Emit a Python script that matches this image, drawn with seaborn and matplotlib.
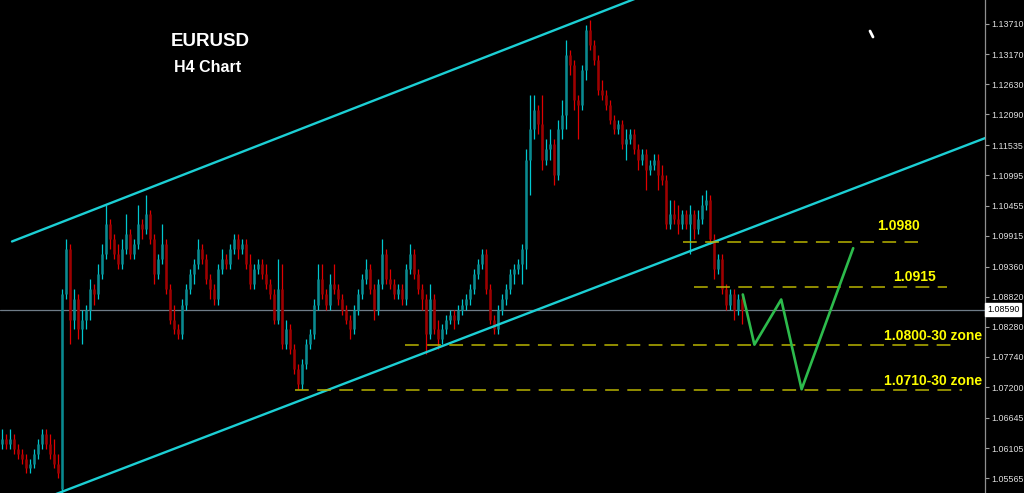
import numpy as np
import matplotlib
matplotlib.use("Agg")
import matplotlib.pyplot as plt
from matplotlib.lines import Line2D
import seaborn as sns

# EURUSD H4 candles, one bar per index
opens = [
    1.0618, 1.0627, 1.0618, 1.0627, 1.0609, 1.0600, 1.0591, 1.0574, 1.0582, 1.0600,
    1.0618, 1.0636, 1.0618, 1.0600, 1.0582, 1.0538, 1.0886, 1.0967, 1.0841, 1.0877,
    1.0824, 1.0841, 1.0859, 1.0895, 1.0886, 1.0922, 1.0958, 1.1012, 1.0985, 1.0958,
    1.0940, 1.0967, 1.0994, 1.0958, 1.0976, 1.1012, 1.1003, 1.1030, 1.0985, 1.0922,
    1.0949, 1.0976, 1.0895, 1.0841, 1.0824, 1.0815, 1.0868, 1.0895, 1.0922, 1.0940,
    1.0967, 1.0949, 1.0913, 1.0895, 1.0877, 1.0931, 1.0949, 1.0940, 1.0967, 1.0985,
    1.0967, 1.0976, 1.0940, 1.0904, 1.0931, 1.0940, 1.0922, 1.0904, 1.0886, 1.0841,
    1.0895, 1.0797, 1.0824, 1.0788, 1.0752, 1.0725, 1.0761, 1.0797, 1.0815, 1.0868,
    1.0913, 1.0886, 1.0868, 1.0904, 1.0895, 1.0877, 1.0859, 1.0841, 1.0824, 1.0859,
    1.0886, 1.0913, 1.0931, 1.0895, 1.0859, 1.0904, 1.0958, 1.0913, 1.0904, 1.0886,
    1.0895, 1.0877, 1.0931, 1.0958, 1.0922, 1.0895, 1.0877, 1.0815, 1.0877, 1.0824,
    1.0806, 1.0824, 1.0841, 1.0850, 1.0841, 1.0859, 1.0868, 1.0877, 1.0895, 1.0922,
    1.0940, 1.0958, 1.0895, 1.0841, 1.0824, 1.0859, 1.0877, 1.0895, 1.0922, 1.0931,
    1.0940, 1.0967, 1.1128, 1.1182, 1.1217, 1.1191, 1.1128, 1.1146, 1.1155, 1.1101,
    1.1182, 1.1208, 1.1316, 1.1298, 1.1235, 1.1226, 1.1289, 1.1360, 1.1333, 1.1307,
    1.1253, 1.1244, 1.1226, 1.1199, 1.1182, 1.1191, 1.1155, 1.1164, 1.1173, 1.1146,
    1.1128, 1.1137, 1.1110, 1.1119, 1.1128, 1.1101, 1.1092, 1.1012, 1.1030, 1.1021,
    1.1012, 1.1030, 1.1012, 1.1030, 1.1003, 1.1021, 1.1047, 1.1056, 1.0985, 1.0931,
    1.0949, 1.0895, 1.0868, 1.0886, 1.0859, 1.0877,
]
highs = [
    1.0645, 1.0636, 1.0645, 1.0636, 1.0618, 1.0609, 1.0600, 1.0591, 1.0609, 1.0627,
    1.0645, 1.0645, 1.0636, 1.0627, 1.0600, 1.0895, 1.0985, 1.0976, 1.0895, 1.0886,
    1.0859, 1.0868, 1.0913, 1.0904, 1.0940, 1.0976, 1.1047, 1.1021, 1.0994, 1.0976,
    1.0985, 1.1030, 1.1003, 1.0985, 1.1047, 1.1021, 1.1065, 1.1038, 1.0994, 1.0958,
    1.1012, 1.0985, 1.0904, 1.0868, 1.0833, 1.0877, 1.0904, 1.0931, 1.0949, 1.0985,
    1.0976, 1.0958, 1.0922, 1.0904, 1.0940, 1.0967, 1.0958, 1.0976, 1.0994, 1.0994,
    1.0985, 1.0985, 1.0958, 1.0940, 1.0949, 1.0949, 1.0940, 1.0913, 1.0895, 1.0949,
    1.0940, 1.0841, 1.0833, 1.0797, 1.0761, 1.0770, 1.0806, 1.0824, 1.0877, 1.0940,
    1.0940, 1.0895, 1.0922, 1.0940, 1.0904, 1.0886, 1.0868, 1.0850, 1.0868, 1.0895,
    1.0922, 1.0949, 1.0940, 1.0904, 1.0913, 1.0985, 1.0967, 1.0931, 1.0913, 1.0904,
    1.0904, 1.0940, 1.0976, 1.0967, 1.0931, 1.0904, 1.0886, 1.0904, 1.0886, 1.0841,
    1.0833, 1.0850, 1.0859, 1.0859, 1.0868, 1.0877, 1.0886, 1.0904, 1.0931, 1.0949,
    1.0967, 1.0967, 1.0904, 1.0850, 1.0868, 1.0886, 1.0904, 1.0931, 1.0940, 1.0949,
    1.0976, 1.1146, 1.1244, 1.1244, 1.1226, 1.1244, 1.1164, 1.1182, 1.1164, 1.1199,
    1.1235, 1.1342, 1.1324, 1.1307, 1.1244, 1.1298, 1.1369, 1.1378, 1.1342, 1.1316,
    1.1271, 1.1253, 1.1235, 1.1208, 1.1199, 1.1199, 1.1182, 1.1182, 1.1182, 1.1155,
    1.1146, 1.1146, 1.1128, 1.1137, 1.1137, 1.1119, 1.1101, 1.1056, 1.1056, 1.1047,
    1.1038, 1.1038, 1.1047, 1.1038, 1.1038, 1.1065, 1.1074, 1.1065, 1.0994, 1.0958,
    1.0958, 1.0904, 1.0895, 1.0895, 1.0886, 1.0886,
]
lows = [
    1.0609, 1.0609, 1.0609, 1.0600, 1.0591, 1.0582, 1.0565, 1.0565, 1.0574, 1.0591,
    1.0609, 1.0609, 1.0591, 1.0574, 1.0556, 1.0520, 1.0877, 1.0797, 1.0824, 1.0806,
    1.0797, 1.0824, 1.0841, 1.0868, 1.0877, 1.0913, 1.0949, 1.0967, 1.0949, 1.0931,
    1.0931, 1.0958, 1.0949, 1.0949, 1.0967, 1.0985, 1.0994, 1.0976, 1.0904, 1.0913,
    1.0940, 1.0886, 1.0833, 1.0815, 1.0806, 1.0806, 1.0859, 1.0886, 1.0904, 1.0931,
    1.0940, 1.0904, 1.0877, 1.0868, 1.0868, 1.0922, 1.0931, 1.0931, 1.0958, 1.0949,
    1.0958, 1.0931, 1.0895, 1.0895, 1.0922, 1.0913, 1.0895, 1.0877, 1.0833, 1.0833,
    1.0788, 1.0788, 1.0779, 1.0743, 1.0716, 1.0716, 1.0752, 1.0788, 1.0806, 1.0859,
    1.0877, 1.0859, 1.0859, 1.0886, 1.0868, 1.0850, 1.0833, 1.0806, 1.0815, 1.0850,
    1.0877, 1.0904, 1.0886, 1.0841, 1.0850, 1.0895, 1.0904, 1.0895, 1.0877, 1.0877,
    1.0868, 1.0868, 1.0922, 1.0913, 1.0886, 1.0859, 1.0779, 1.0806, 1.0815, 1.0788,
    1.0797, 1.0815, 1.0833, 1.0824, 1.0833, 1.0850, 1.0859, 1.0868, 1.0886, 1.0913,
    1.0931, 1.0886, 1.0833, 1.0815, 1.0815, 1.0850, 1.0868, 1.0886, 1.0904, 1.0922,
    1.0904, 1.0931, 1.1065, 1.1164, 1.1173, 1.1110, 1.1119, 1.1128, 1.1083, 1.1092,
    1.1164, 1.1182, 1.1280, 1.1217, 1.1164, 1.1217, 1.1271, 1.1324, 1.1298, 1.1244,
    1.1235, 1.1217, 1.1191, 1.1173, 1.1173, 1.1146, 1.1128, 1.1155, 1.1137, 1.1110,
    1.1119, 1.1074, 1.1101, 1.1110, 1.1074, 1.1083, 1.1003, 1.1003, 1.1012, 1.0994,
    1.1003, 1.1003, 1.0958, 1.0985, 1.0994, 1.1012, 1.1038, 1.0976, 1.0913, 1.0922,
    1.0886, 1.0859, 1.0859, 1.0841, 1.0850, 1.0833,
]
closes = [
    1.0627, 1.0618, 1.0627, 1.0609, 1.0600, 1.0591, 1.0574, 1.0582, 1.0600, 1.0618,
    1.0636, 1.0618, 1.0600, 1.0582, 1.0565, 1.0886, 1.0967, 1.0841, 1.0877, 1.0824,
    1.0841, 1.0859, 1.0895, 1.0886, 1.0922, 1.0958, 1.1012, 1.0985, 1.0958, 1.0940,
    1.0967, 1.0994, 1.0958, 1.0976, 1.1012, 1.1003, 1.1030, 1.0985, 1.0922, 1.0949,
    1.0976, 1.0895, 1.0841, 1.0824, 1.0815, 1.0868, 1.0895, 1.0922, 1.0940, 1.0967,
    1.0949, 1.0913, 1.0895, 1.0877, 1.0931, 1.0949, 1.0940, 1.0967, 1.0985, 1.0967,
    1.0976, 1.0940, 1.0904, 1.0931, 1.0940, 1.0922, 1.0904, 1.0886, 1.0841, 1.0895,
    1.0797, 1.0824, 1.0788, 1.0752, 1.0725, 1.0761, 1.0797, 1.0815, 1.0868, 1.0913,
    1.0886, 1.0868, 1.0904, 1.0895, 1.0877, 1.0859, 1.0841, 1.0824, 1.0859, 1.0886,
    1.0913, 1.0931, 1.0895, 1.0859, 1.0904, 1.0958, 1.0913, 1.0904, 1.0886, 1.0895,
    1.0877, 1.0931, 1.0958, 1.0922, 1.0895, 1.0877, 1.0815, 1.0877, 1.0824, 1.0806,
    1.0824, 1.0841, 1.0850, 1.0841, 1.0859, 1.0868, 1.0877, 1.0895, 1.0922, 1.0940,
    1.0958, 1.0895, 1.0841, 1.0824, 1.0859, 1.0877, 1.0895, 1.0922, 1.0931, 1.0940,
    1.0967, 1.1128, 1.1182, 1.1217, 1.1191, 1.1128, 1.1146, 1.1155, 1.1101, 1.1182,
    1.1208, 1.1316, 1.1298, 1.1235, 1.1226, 1.1289, 1.1360, 1.1333, 1.1307, 1.1253,
    1.1244, 1.1226, 1.1199, 1.1182, 1.1191, 1.1155, 1.1164, 1.1173, 1.1146, 1.1128,
    1.1137, 1.1110, 1.1119, 1.1128, 1.1101, 1.1092, 1.1012, 1.1030, 1.1021, 1.1012,
    1.1030, 1.1012, 1.1030, 1.1003, 1.1021, 1.1047, 1.1056, 1.0985, 1.0931, 1.0949,
    1.0895, 1.0868, 1.0886, 1.0859, 1.0877, 1.0859,
]
current_price = 1.08590

# right price scale
y_ticks = [1.13710, 1.13170, 1.12630, 1.12090, 1.11535, 1.10995, 1.10455, 1.09915,
           1.09360, 1.08820, 1.08280, 1.07740, 1.07200, 1.06645, 1.06105, 1.05565]

# drawn channel (bar index, price)
upper_x = [2.5, 170.0]
upper_y = [1.0981, 1.1449]
lower_x = [12.0, 246.0]
lower_y = [1.0524, 1.1167]

# horizontal levels: price, start bar, end bar, label, label bar, label price
level_prices = [1.0980, 1.0900, 1.0796, 1.0715]
level_start = [170.3, 173.0, 100.8, 73.3]
level_end = [229.0, 236.3, 239.0, 240.0]
level_labels = ["1.0980", "1.0915", "1.0800-30 zone", "1.0710-30 zone"]
label_x = [218.8, 222.8, 220.5, 220.5]
label_y = [1.1009, 1.0917, 1.0812, 1.0731]

# projected path
path_x = [185.2, 188.1, 194.8, 199.9, 212.8]
path_y = [1.0886, 1.0796, 1.0877, 1.0716, 1.0969]

sns.set_style("dark", {"axes.facecolor": "black", "figure.facecolor": "black"})
plt.rcParams["font.family"] = ["Liberation Sans", "DejaVu Sans"]

fig = plt.figure(figsize=(10.24, 4.93), dpi=100, facecolor="black")
ax = fig.add_axes([0, 0, 985 / 1024, 1])
ax.set_facecolor("black")

o = np.array(opens)
c = np.array(closes)
h = np.maximum(np.array(highs), np.maximum(o, c))
l = np.minimum(np.array(lows), np.minimum(o, c))
idx = np.arange(len(c))
up = c >= o
dn = ~up

UP_WICK, UP_BODY = "#00c8d0", "#0a8a90"
DN_WICK, DN_BODY = "#e00000", "#9e0000"

ax.vlines(idx[up], l[up], h[up], color=UP_WICK, lw=0.9, zorder=2)
ax.vlines(idx[up], o[up], c[up], color=UP_BODY, lw=1.8, zorder=3)
ax.vlines(idx[dn], l[dn], h[dn], color=DN_WICK, lw=0.9, zorder=2)
ax.vlines(idx[dn], c[dn], o[dn], color=DN_BODY, lw=1.8, zorder=3)

# current price line
ax.axhline(current_price, color="#6f7c88", lw=0.9, zorder=1)

# channel lines
sns.lineplot(x=upper_x, y=upper_y, ax=ax, color="#1ccfd4", lw=1.7, zorder=4)
sns.lineplot(x=lower_x, y=lower_y, ax=ax, color="#1ccfd4", lw=1.7, zorder=4)

# levels
ax.hlines(level_prices, level_start, level_end, colors="#b8b400", lw=1.1,
          linestyles=(0, (9, 5.5)), zorder=4)
for lx, ly, txt in zip(label_x, label_y, level_labels):
    ax.text(lx, ly, txt, color="#ffff00", fontsize=10, fontweight="bold",
            ha="left", va="center", zorder=6)

# projection
sns.lineplot(x=path_x, y=path_y, ax=ax, color="#2dbb4c", lw=1.9, sort=False,
             estimator=None, zorder=5)

ax.set_xlim(-0.5, 245.75)
ax.set_ylim(1.0530, 1.1414)

ax.yaxis.tick_right()
ax.set_yticks(y_ticks)
ax.set_yticklabels([f"{v:.5f}" for v in y_ticks])
ax.tick_params(axis="y", colors="#a0a0a0", labelcolor="#e0e0e0", length=3,
               width=0.8, labelsize=6.4, pad=1.5)
ax.set_xticks([])
ax.grid(False)
for side in ["top", "left", "bottom"]:
    ax.spines[side].set_visible(False)
ax.spines["right"].set_color("#909090")
ax.spines["right"].set_linewidth(0.9)

ax.text(1.002, current_price, f"{current_price:.5f}", transform=ax.get_yaxis_transform(),
        fontsize=6.4, color="black", ha="left", va="center", clip_on=False,
        bbox=dict(facecolor="white", edgecolor="white", pad=1.3))

fig.text(210 / 1024, 1 - 42 / 493, "EURUSD", color="white", fontsize=13.5,
         fontweight="bold", ha="center", va="center")
fig.text(208 / 1024, 1 - 67 / 493, "H4 Chart", color="white", fontsize=11.5,
         fontweight="bold", ha="center", va="center")

# small stray cursor mark near the top right
fig.add_artist(Line2D([870 / 1024, 873 / 1024], [1 - 31 / 493, 1 - 37 / 493],
                      color="white", lw=2.0))

fig.savefig("out.png", dpi=100, facecolor="black")
